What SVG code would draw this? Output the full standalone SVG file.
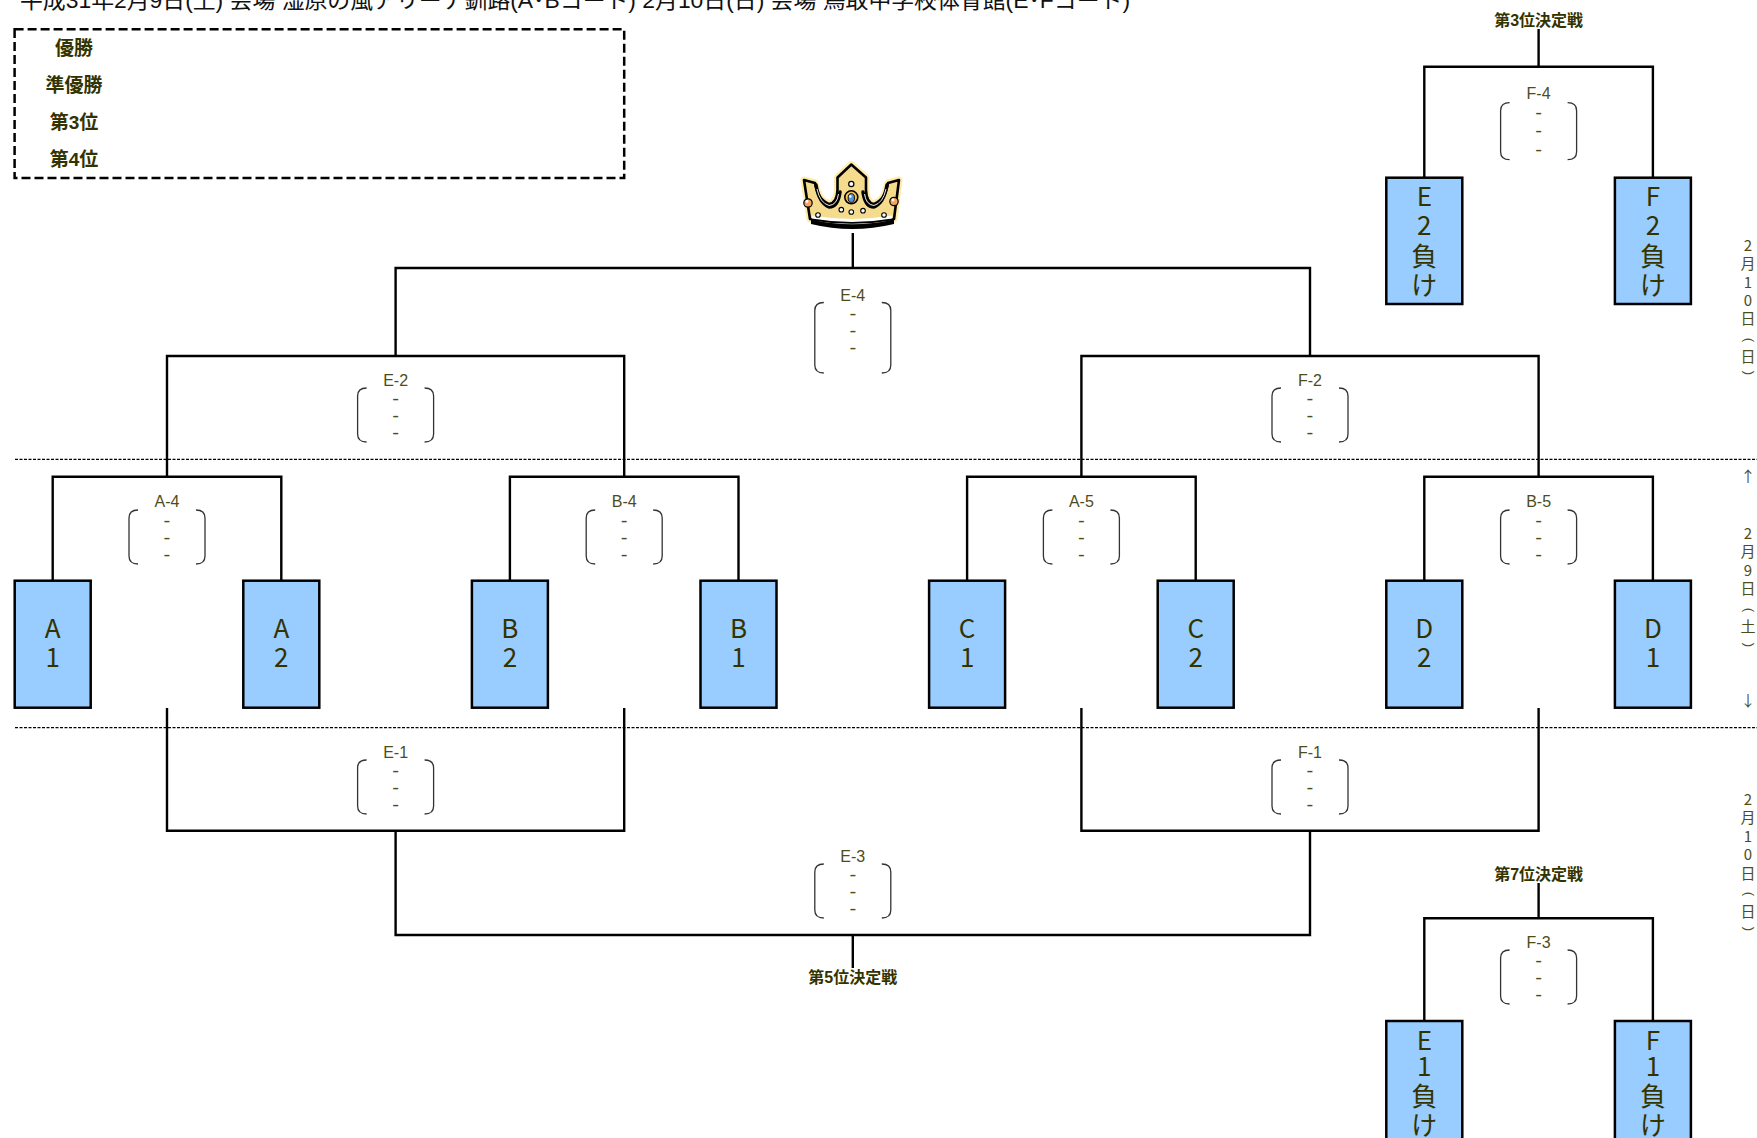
<svg xmlns="http://www.w3.org/2000/svg" xmlns:xlink="http://www.w3.org/1999/xlink" width="1757" height="1138" viewBox="0 0 1757 1138">
<style>
.ln{stroke:#000;stroke-width:2.4;fill:none}
.box{fill:#99CCFF;stroke:#000;stroke-width:2.5}
.bt{font-family:"Noto Sans CJK JP",sans-serif;font-size:26px;fill:#333300;text-anchor:middle}
.ml{font-family:"Liberation Sans","Noto Sans CJK JP",sans-serif;font-size:16px;fill:#4d4d1a;text-anchor:middle}
.dash{font-family:"Liberation Mono",monospace;font-size:18px;fill:#4d4d1a;text-anchor:middle}
.par{fill:none;stroke:#333;stroke-width:1.3}
.bold{font-family:"Liberation Sans","Noto Sans CJK JP",sans-serif;font-weight:bold;fill:#333300;text-anchor:middle}
.vt{font-family:"Noto Sans CJK JP",sans-serif;font-size:15px;fill:#4d4d1a;text-anchor:middle}
.vp{font-family:"Liberation Sans",sans-serif;font-size:13px;fill:#4d4d1a;text-anchor:middle}
.sep{stroke:#000;stroke-width:1.3;stroke-dasharray:3 1.5;fill:none}
.title{font-family:"Liberation Sans","Noto Sans CJK JP",sans-serif;font-size:22px;fill:#111}
</style>
<defs>
<path id="pr" class="par" d="M-29,0 Q-38,0 -38,8 V46 Q-38,54 -29,54 M29,0 Q38,0 38,8 V46 Q38,54 29,54"/>
</defs>

<text class="title" x="20" y="8" textLength="1110" lengthAdjust="spacingAndGlyphs">平成31年2月9日(土) 会場 湿原の風アリーナ釧路(A･Bコート) 2月10日(日) 会場 鳥取中学校体育館(E･Fコート)</text>

<g id="legend">
<rect x="14.6" y="29.3" width="609.6" height="148.7" fill="none" stroke="#000" stroke-width="2.5" stroke-dasharray="9 4"/>
<text class="bold" font-size="19" x="74" y="54.5">優勝</text>
<text class="bold" font-size="19" x="74" y="92">準優勝</text>
<text class="bold" font-size="19" x="74" y="129">第3位</text>
<text class="bold" font-size="19" x="74" y="166">第4位</text>
</g>

<g id="crown">
<path d="M810,219 L804,180 L815,183 Q818,200 829,204 Q837,203 837.5,190 L837.5,177.5 L851.3,164.5 L866,177.5 L866,190 Q866.5,203 874,204 Q885,200 888,183 L899,180 L894,219 Q852,226 810,219 Z" fill="none" stroke="#FFEBAA" stroke-width="7" stroke-linejoin="round"/>
<path d="M810,219 L804,180 L815,183 Q818,200 829,204 Q837,203 837.5,190 L837.5,177.5 L851.3,164.5 L866,177.5 L866,190 Q866.5,203 874,204 Q885,200 888,183 L899,180 L894,219 Q852,226 810,219 Z" fill="#F5DC8C" stroke="#000" stroke-width="2.6" stroke-linejoin="round"/>
<path d="M816,185 Q819,203 829,207 Q838,207 840,192 M887,185 Q884,203 874,207 Q865,207 863,192" fill="none" stroke="#000" stroke-width="3.5" stroke-linecap="round"/>
<path d="M817,189 Q820,203 829,205.5 Q837,205 838.5,194 M886,189 Q883,203 874,205.5 Q866,205 864.5,194" fill="none" stroke="#fff" stroke-width="0.9"/>
<path d="M812,217 Q852,224 892,217" fill="none" stroke="#fff" stroke-width="3"/>
<path d="M811,219.5 Q852,229 894,219.5 L894,224 Q852,234 811,224 Z" fill="#000"/>
<circle cx="851.3" cy="197.3" r="6.5" fill="#F2C94C" stroke="#000" stroke-width="1.6"/>
<ellipse cx="851.3" cy="198" rx="3.2" ry="4.4" fill="#5B8FD9" stroke="#000" stroke-width="0.9"/>
<circle cx="850.3" cy="196.5" r="1.3" fill="#fff"/>
<circle cx="851.3" cy="184" r="2.6" fill="#fff" stroke="#000" stroke-width="1.2"/>
<circle cx="841.3" cy="209.7" r="2.3" fill="#fff" stroke="#000" stroke-width="1.1"/>
<circle cx="851.3" cy="212" r="2.3" fill="#fff" stroke="#000" stroke-width="1.1"/>
<circle cx="863" cy="210.7" r="2.3" fill="#fff" stroke="#000" stroke-width="1.1"/>
<circle cx="818" cy="215" r="2.3" fill="#fff" stroke="#000" stroke-width="1.1"/>
<circle cx="884" cy="215" r="2.3" fill="#fff" stroke="#000" stroke-width="1.1"/>
<circle cx="808" cy="203" r="4.2" fill="#F4A460" stroke="#000" stroke-width="1.2"/>
<circle cx="807" cy="201.5" r="1.4" fill="#fff"/>
<circle cx="894" cy="201.5" r="4.2" fill="#F4A460" stroke="#000" stroke-width="1.2"/>
<circle cx="893" cy="200" r="1.4" fill="#fff"/>
</g>

<g id="separators">
<line class="sep" x1="15" y1="459.3" x2="1757" y2="459.3"/>
<line class="sep" x1="15" y1="727.7" x2="1757" y2="727.7"/>
</g>

<g id="connectors">
<path class="ln" d="M852.8,233 V268"/>
<path class="ln" d="M395.6,356 V268 H1310 V356"/>
<path class="ln" d="M167,476.7 V356 H624.2 V476.7"/>
<path class="ln" d="M1081.4,476.7 V356 H1538.6 V476.7"/>
<path class="ln" d="M52.7,580.7 V476.7 H281.3 V580.7"/>
<path class="ln" d="M509.9,580.7 V476.7 H738.5 V580.7"/>
<path class="ln" d="M967.1,580.7 V476.7 H1195.7 V580.7"/>
<path class="ln" d="M1424.3,580.7 V476.7 H1652.9 V580.7"/>
<path class="ln" d="M167,708 V830.7 H624.2 V708"/>
<path class="ln" d="M1081.4,708 V830.7 H1538.6 V708"/>
<path class="ln" d="M395.6,830.7 V935 H1310 V830.7"/>
<path class="ln" d="M852.8,935 V968"/>
<path class="ln" d="M1538.6,29 V66.7"/>
<path class="ln" d="M1424.3,177.7 V66.7 H1652.9 V177.7"/>
<path class="ln" d="M1538.6,883 V918.3"/>
<path class="ln" d="M1424.3,1021 V918.3 H1652.9 V1021"/>
</g>

<g id="match-E4">
<text class="ml" x="852.8" y="300.7">E-4</text>
<path class="par" d="M823.8,302.5 Q814.8,302.5 814.8,310.5 V365 Q814.8,373 823.8,373 M881.8,302.5 Q890.8,302.5 890.8,310.5 V365 Q890.8,373 881.8,373"/>
<text class="dash" x="852.8" y="319.5">-</text>
<text class="dash" x="852.8" y="336.5">-</text>
<text class="dash" x="852.8" y="353.5">-</text>
</g>
<g id="match-E2">
<text class="ml" x="395.6" y="386">E-2</text>
<use xlink:href="#pr" x="395.6" y="388"/>
<text class="dash" x="395.6" y="405">-</text>
<text class="dash" x="395.6" y="422">-</text>
<text class="dash" x="395.6" y="439">-</text>
</g>
<g id="match-F2">
<text class="ml" x="1310" y="386">F-2</text>
<use xlink:href="#pr" x="1310" y="388"/>
<text class="dash" x="1310" y="405">-</text>
<text class="dash" x="1310" y="422">-</text>
<text class="dash" x="1310" y="439">-</text>
</g>
<g id="match-A4">
<text class="ml" x="167" y="506.7">A-4</text>
<use xlink:href="#pr" x="167" y="510"/>
<text class="dash" x="167" y="527">-</text>
<text class="dash" x="167" y="544">-</text>
<text class="dash" x="167" y="561">-</text>
</g>
<g id="match-B4">
<text class="ml" x="624.2" y="506.7">B-4</text>
<use xlink:href="#pr" x="624.2" y="510"/>
<text class="dash" x="624.2" y="527">-</text>
<text class="dash" x="624.2" y="544">-</text>
<text class="dash" x="624.2" y="561">-</text>
</g>
<g id="match-A5">
<text class="ml" x="1081.4" y="506.7">A-5</text>
<use xlink:href="#pr" x="1081.4" y="510"/>
<text class="dash" x="1081.4" y="527">-</text>
<text class="dash" x="1081.4" y="544">-</text>
<text class="dash" x="1081.4" y="561">-</text>
</g>
<g id="match-B5">
<text class="ml" x="1538.6" y="506.7">B-5</text>
<use xlink:href="#pr" x="1538.6" y="510"/>
<text class="dash" x="1538.6" y="527">-</text>
<text class="dash" x="1538.6" y="544">-</text>
<text class="dash" x="1538.6" y="561">-</text>
</g>
<g id="match-E1">
<text class="ml" x="395.6" y="758">E-1</text>
<use xlink:href="#pr" x="395.6" y="760"/>
<text class="dash" x="395.6" y="777">-</text>
<text class="dash" x="395.6" y="794">-</text>
<text class="dash" x="395.6" y="811">-</text>
</g>
<g id="match-F1">
<text class="ml" x="1310" y="758">F-1</text>
<use xlink:href="#pr" x="1310" y="760"/>
<text class="dash" x="1310" y="777">-</text>
<text class="dash" x="1310" y="794">-</text>
<text class="dash" x="1310" y="811">-</text>
</g>
<g id="match-E3">
<text class="ml" x="852.8" y="862">E-3</text>
<use xlink:href="#pr" x="852.8" y="864"/>
<text class="dash" x="852.8" y="881">-</text>
<text class="dash" x="852.8" y="898">-</text>
<text class="dash" x="852.8" y="915">-</text>
<text class="bold" font-size="16" x="852.8" y="983">第5位決定戦</text>
</g>
<g id="match-F4">
<text class="bold" font-size="16" x="1538.6" y="26">第3位決定戦</text>
<text class="ml" x="1538.6" y="99">F-4</text>
<path class="par" d="M1509.6,102.7 Q1500.6,102.7 1500.6,110.7 V151.7 Q1500.6,159.7 1509.6,159.7 M1567.6,102.7 Q1576.6,102.7 1576.6,110.7 V151.7 Q1576.6,159.7 1567.6,159.7"/>
<text class="dash" x="1538.6" y="119">-</text>
<text class="dash" x="1538.6" y="137">-</text>
<text class="dash" x="1538.6" y="155.5">-</text>
</g>
<g id="match-F3">
<text class="bold" font-size="16" x="1538.6" y="880">第7位決定戦</text>
<text class="ml" x="1538.6" y="948">F-3</text>
<use xlink:href="#pr" x="1538.6" y="950"/>
<text class="dash" x="1538.6" y="967">-</text>
<text class="dash" x="1538.6" y="984">-</text>
<text class="dash" x="1538.6" y="1001">-</text>
</g>

<g id="team-A1"><rect class="box" x="14.7" y="580.7" width="76" height="127"/><text class="bt"><tspan x="52.7" y="637.5">A</tspan><tspan x="52.7" y="666.5">1</tspan></text></g>
<g id="team-A2"><rect class="box" x="243.3" y="580.7" width="76" height="127"/><text class="bt"><tspan x="281.3" y="637.5">A</tspan><tspan x="281.3" y="666.5">2</tspan></text></g>
<g id="team-B2"><rect class="box" x="471.9" y="580.7" width="76" height="127"/><text class="bt"><tspan x="509.9" y="637.5">B</tspan><tspan x="509.9" y="666.5">2</tspan></text></g>
<g id="team-B1"><rect class="box" x="700.5" y="580.7" width="76" height="127"/><text class="bt"><tspan x="738.5" y="637.5">B</tspan><tspan x="738.5" y="666.5">1</tspan></text></g>
<g id="team-C1"><rect class="box" x="929.1" y="580.7" width="76" height="127"/><text class="bt"><tspan x="967.1" y="637.5">C</tspan><tspan x="967.1" y="666.5">1</tspan></text></g>
<g id="team-C2"><rect class="box" x="1157.7" y="580.7" width="76" height="127"/><text class="bt"><tspan x="1195.7" y="637.5">C</tspan><tspan x="1195.7" y="666.5">2</tspan></text></g>
<g id="team-D2"><rect class="box" x="1386.3" y="580.7" width="76" height="127"/><text class="bt"><tspan x="1424.3" y="637.5">D</tspan><tspan x="1424.3" y="666.5">2</tspan></text></g>
<g id="team-D1"><rect class="box" x="1614.9" y="580.7" width="76" height="127"/><text class="bt"><tspan x="1652.9" y="637.5">D</tspan><tspan x="1652.9" y="666.5">1</tspan></text></g>

<g id="team-E2L"><rect class="box" x="1386.3" y="177.7" width="76" height="126.3"/><text class="bt"><tspan x="1424.3" y="206">E</tspan><tspan x="1424.3" y="234.5">2</tspan><tspan x="1424.3" y="266">負</tspan><tspan x="1424.3" y="294.5">け</tspan></text></g>
<g id="team-F2L"><rect class="box" x="1614.9" y="177.7" width="76" height="126.3"/><text class="bt"><tspan x="1652.9" y="206">F</tspan><tspan x="1652.9" y="234.5">2</tspan><tspan x="1652.9" y="266">負</tspan><tspan x="1652.9" y="294.5">け</tspan></text></g>
<g id="team-E1L"><rect class="box" x="1386.3" y="1021" width="76" height="127"/><text class="bt"><tspan x="1424.3" y="1049.7">E</tspan><tspan x="1424.3" y="1076.4">1</tspan><tspan x="1424.3" y="1106.4">負</tspan><tspan x="1424.3" y="1134.7">け</tspan></text></g>
<g id="team-F1L"><rect class="box" x="1614.9" y="1021" width="76" height="127"/><text class="bt"><tspan x="1652.9" y="1049.7">F</tspan><tspan x="1652.9" y="1076.4">1</tspan><tspan x="1652.9" y="1106.4">負</tspan><tspan x="1652.9" y="1134.7">け</tspan></text></g>

<g id="dates">
<text class="vt"><tspan x="1748" y="250.5">2</tspan><tspan x="1748" y="268.7">月</tspan><tspan x="1748" y="287.5">1</tspan><tspan x="1748" y="305.5">0</tspan><tspan x="1748" y="323.7">日</tspan></text>
<text class="vp" x="1748" y="343.4" transform="rotate(90 1748 340)">(</text>
<text class="vt" x="1748" y="361.7">日</text>
<text class="vp" x="1748" y="376.4" transform="rotate(90 1748 373)">)</text>
<text class="vt" x="1748" y="482">↑</text>
<text class="vt"><tspan x="1748" y="538.5">2</tspan><tspan x="1748" y="557.4">月</tspan><tspan x="1748" y="575.5">9</tspan><tspan x="1748" y="593.7">日</tspan></text>
<text class="vp" x="1748" y="613.4" transform="rotate(90 1748 610)">(</text>
<text class="vt" x="1748" y="632.4">土</text>
<text class="vp" x="1748" y="648.4" transform="rotate(90 1748 645)">)</text>
<text class="vt" x="1748" y="705.5">↓</text>
<text class="vt"><tspan x="1748" y="804.5">2</tspan><tspan x="1748" y="823.2">月</tspan><tspan x="1748" y="841.5">1</tspan><tspan x="1748" y="860">0</tspan><tspan x="1748" y="878.7">日</tspan></text>
<text class="vp" x="1748" y="897.4" transform="rotate(90 1748 894)">(</text>
<text class="vt" x="1748" y="916.7">日</text>
<text class="vp" x="1748" y="932.4" transform="rotate(90 1748 929)">)</text>
</g>
</svg>
